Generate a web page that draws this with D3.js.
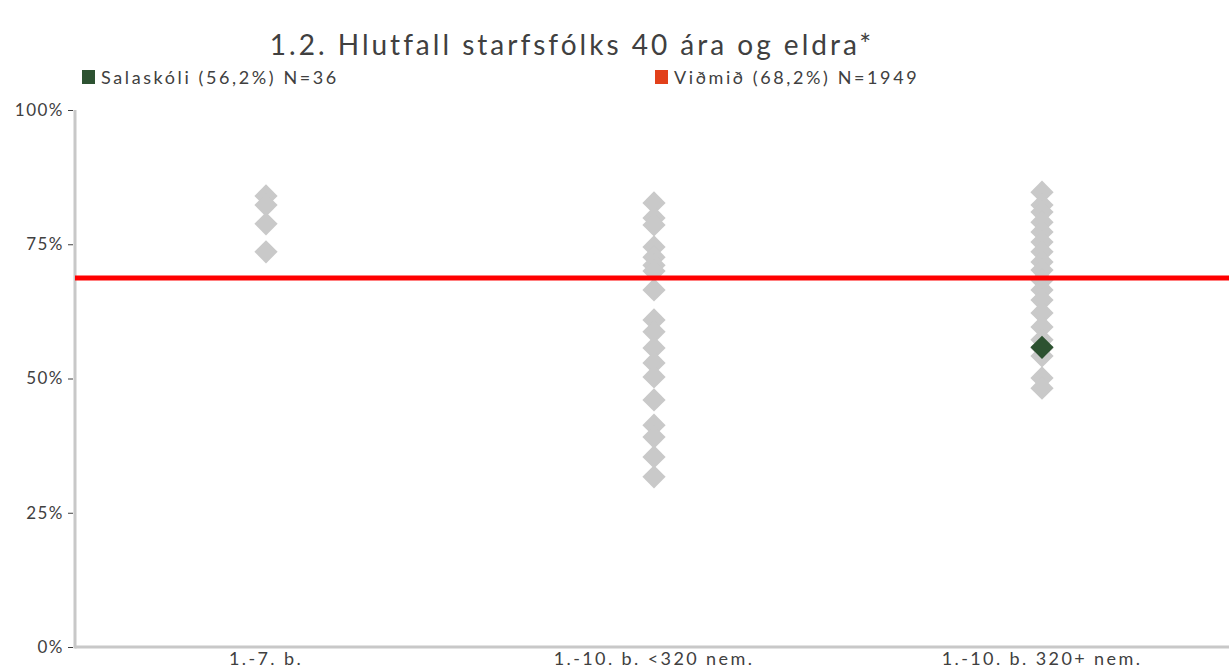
<!DOCTYPE html>
<html><head><meta charset="utf-8">
<script src="https://cdn.jsdelivr.net/npm/d3@7"></script>
<style>
html,body{margin:0;padding:0;background:#fff;}
svg{display:block;font-family:Lato,"Open Sans",sans-serif;}
</style></head>
<body><svg id="chart" width="1229" height="670"></svg>
<script>
const title = "1.2. Hlutfall starfsfólks 40 ára og eldra*";
const categories = ["1.-7. b.", "1.-10. b. <320 nem.", "1.-10. b. 320+ nem."];
const grayCat1 = [84.0, 82.3, 78.8, 73.6];
const grayCat2 = [82.7, 79.9, 78.6, 74.5, 72.6, 71.1, 70.0, 66.5, 60.9, 58.7, 55.7, 52.9, 50.3, 46.0, 41.3, 39.1, 35.4, 31.7];
const grayCat3 = [84.7, 82.3, 81.0, 79.1, 77.3, 75.4, 73.6, 71.7, 70.2, 68.3, 66.5, 64.6, 62.2, 59.6, 57.2, 55.7, 54.2, 50.1, 48.2];
const schoolCategory = "1.-10. b. 320+ nem.";
const schoolValue = 55.8;
const normValue = 68.7;
const yTicks = [0, 25, 50, 75, 100];
const yTickLabels = ["0%", "25%", "50%", "75%", "100%"];
const legendLabels = ["Salaskóli (56,2%) N=36", "Viðmið (68,2%) N=1949"];

const grayColor = "#c9c9c9", schoolColor = "#2d5231", normColor = "#ff0000", legendNormColor = "#e2401a";
const textColor = "#404040";
const svg = d3.select("#chart");
const x = d3.scaleBand().domain(categories).range([72, 1236]).padding(0);
const y = d3.scaleLinear().domain([0, 100]).range([647, 110]);

// title
svg.append("text").attr("x", 572).attr("y", 55).attr("text-anchor", "middle")
  .attr("font-size", 28).attr("letter-spacing", 3).attr("fill", textColor).text(title);

// legend
const leg = [{label: legendLabels[0], color: schoolColor, x: 82}, {label: legendLabels[1], color: legendNormColor, x: 655}];
leg.forEach(l => {
  svg.append("rect").attr("x", l.x).attr("y", 70).attr("width", 13).attr("height", 14).attr("fill", l.color);
  svg.append("text").attr("x", l.x + 19).attr("y", 84).attr("font-size", 18).attr("letter-spacing", 2.6)
    .attr("fill", textColor).text(l.label);
});

// y axis
const yAxis = d3.axisLeft(y).tickValues(yTicks).tickFormat((d, i) => yTickLabels[i]).tickSize(5).tickPadding(6);
const gy = svg.append("g").attr("transform", "translate(75,0)").call(yAxis);
gy.select(".domain").remove();
gy.selectAll(".tick line").attr("stroke", textColor).attr("transform", "translate(-2,0)");
gy.selectAll(".tick text").attr("font-size", 17).attr("letter-spacing", 1.5).attr("fill", textColor)
  .attr("font-family", "Lato,'Open Sans',sans-serif");
svg.append("line").attr("x1", 75).attr("x2", 75).attr("y1", y(100)).attr("y2", y(0) + 1.5)
  .attr("stroke", "#c8c8c8").attr("stroke-width", 3);
// x axis
svg.append("line").attr("x1", 75).attr("x2", 1229).attr("y1", y(0)).attr("y2", y(0))
  .attr("stroke", "#c8c8c8").attr("stroke-width", 3);
const xAxis = d3.axisBottom(x).tickSize(0).tickPadding(5);
const gx = svg.append("g").attr("transform", `translate(0,${y(0)})`).call(xAxis);
gx.select(".domain").remove();
gx.selectAll(".tick text").attr("font-size", 18).attr("letter-spacing", 2.4).attr("fill", textColor)
  .attr("font-family", "Lato,'Open Sans',sans-serif");

// diamonds
const diamond = d3.symbol().type(d3.symbolSquare).size(270);
const grayData = [];
[grayCat1, grayCat2, grayCat3].forEach((arr, i) => arr.forEach(v => grayData.push({cat: categories[i], v})));
svg.append("g").selectAll("path").data(grayData).join("path")
  .attr("d", diamond)
  .attr("transform", d => `translate(${x(d.cat) + x.bandwidth() / 2},${y(d.v)}) rotate(45)`)
  .attr("fill", grayColor);

// norm line
svg.append("line").attr("x1", 75).attr("x2", 1229).attr("y1", y(normValue)).attr("y2", y(normValue))
  .attr("stroke", normColor).attr("stroke-width", 5);

// school
svg.append("path").attr("d", diamond)
  .attr("transform", `translate(${x(schoolCategory) + x.bandwidth() / 2},${y(schoolValue)}) rotate(45)`)
  .attr("fill", schoolColor);
</script></body></html>
